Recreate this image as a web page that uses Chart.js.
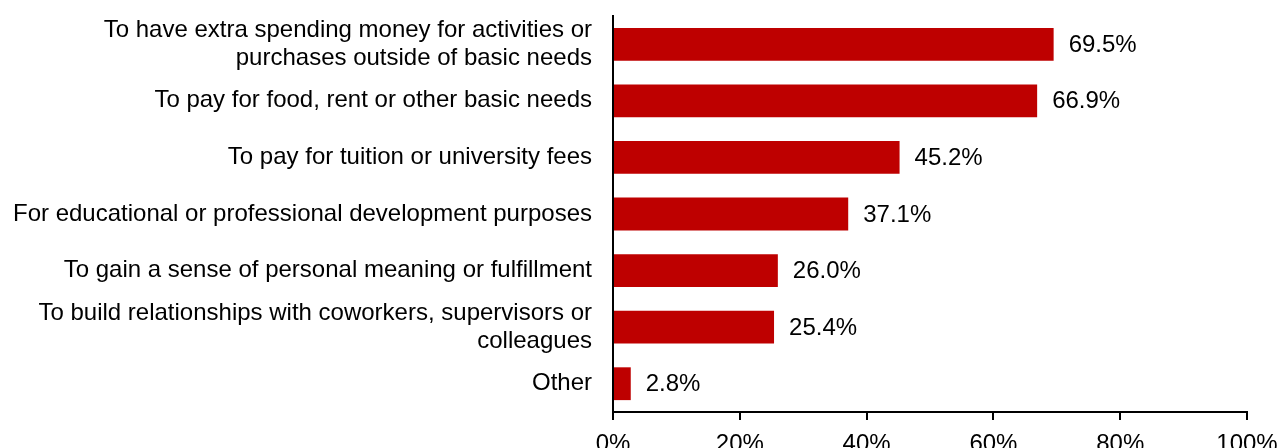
<!DOCTYPE html>
<html lang="en">

<head>
    <meta charset="UTF-8">
    <meta name="viewport" content="width=device-width, initial-scale=1">
    <title>Reasons for working</title>
    <script src="https://cdn.jsdelivr.net/npm/chart.js@4.4.0/dist/chart.umd.min.js"></script>
    <style>
        html, body { margin: 0; padding: 0; background: #ffffff; }
        #chart-container { width: 1279px; height: 448px; }
    </style>
</head>

<body>
<div id="chart-container">
    <canvas id="chartCanvas"></canvas>
</div>

<script>
    // reasons (multi-line labels are arrays of lines)
    const reasons = [
        ['To have extra spending money for activities or', 'purchases outside of basic needs'],
        'To pay for food, rent or other basic needs',
        'To pay for tuition or university fees',
        'For educational or professional development purposes',
        'To gain a sense of personal meaning or fulfillment',
        ['To build relationships with coworkers, supervisors or', 'colleagues'],
        'Other'
    ];
    const shares = [69.5, 66.9, 45.2, 37.1, 26.0, 25.4, 2.8];
    const xTicks = [0, 20, 40, 60, 80, 100];

    const FONT = "'Liberation Sans', Arial, sans-serif";

    // writes "xx.x%" just right of each bar
    const valueLabels = {
        id: 'valueLabels',
        afterDatasetsDraw(chart) {
            const ctx = chart.ctx;
            const meta = chart.getDatasetMeta(0);
            ctx.save();
            ctx.font = '24px ' + FONT;
            ctx.fillStyle = '#000000';
            ctx.textAlign = 'left';
            ctx.textBaseline = 'middle';
            meta.data.forEach(function (bar, i) {
                ctx.fillText(shares[i].toFixed(1) + '%', bar.x + 15, bar.y + 1);
            });
            ctx.restore();
        }
    };

    const ctx = document.getElementById('chartCanvas').getContext('2d');
    const myChart = new Chart(ctx, {
        type: 'bar',
        data: {
            labels: reasons,
            datasets: [{
                data: shares,
                backgroundColor: '#BE0000',
                borderWidth: 0,
                barPercentage: 0.58,
                categoryPercentage: 1.0
            }]
        },
        plugins: [valueLabels],
        options: {
            indexAxis: 'y',
            responsive: true,
            maintainAspectRatio: false,
            animation: false,
            layout: {
                padding: { top: 16, right: 32, left: 0, bottom: 0 }
            },
            plugins: {
                legend: { display: false },
                tooltip: { enabled: false }
            },
            scales: {
                x: {
                    min: 0,
                    max: 100,
                    afterBuildTicks: function (scale) {
                        scale.ticks = xTicks.map(v => ({ value: v }));
                    },
                    afterFit: function (scale) {
                        scale.height = 36;
                        scale.paddingLeft = 0;
                        scale.paddingRight = 0;
                    },
                    grid: {
                        display: true,
                        drawOnChartArea: false,
                        drawTicks: true,
                        tickLength: 8,
                        color: '#000000',
                        lineWidth: 2
                    },
                    border: { display: true, color: '#000000', width: 2 },
                    ticks: {
                        color: '#000000',
                        padding: 10,
                        maxRotation: 0,
                        font: { family: FONT, size: 24 },
                        callback: v => v + '%'
                    }
                },
                y: {
                    afterFit: function (scale) {
                        scale.width = 613;
                        scale.paddingTop = 0;
                        scale.paddingBottom = 0;
                    },
                    grid: { display: false, drawTicks: false },
                    border: { display: true, color: '#000000', width: 2 },
                    ticks: {
                        color: '#000000',
                        padding: 21,
                        autoSkip: false,
                        font: { family: FONT, size: 24, lineHeight: 1.15 }
                    }
                }
            }
        }
    });
</script>
</body>
</html>
